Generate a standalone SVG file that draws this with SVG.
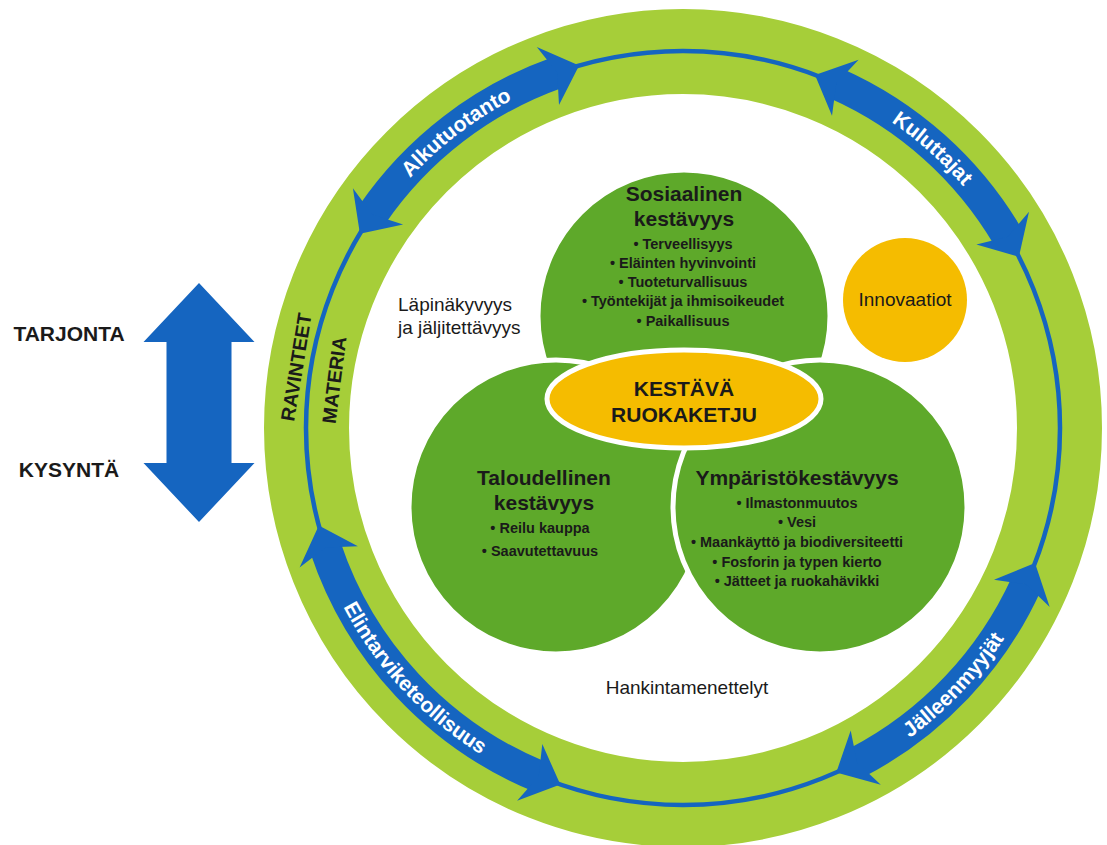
<svg xmlns="http://www.w3.org/2000/svg" width="1107" height="845" viewBox="0 0 1107 845">
<style>
.b{font-family:"Liberation Sans",Arial,sans-serif;font-weight:bold;fill:#1a1a1a}
.r{font-family:"Liberation Sans",Arial,sans-serif;fill:#1a1a1a;font-size:19px}
.w{font-family:"Liberation Sans",Arial,sans-serif;font-weight:bold;fill:#fff;font-size:21px}
.h{font-size:21px;text-anchor:middle}
.li{font-size:14.5px;text-anchor:middle}
.head{fill:#1565c0}
.shaft{fill:none;stroke:#1565c0;stroke-width:32}
.c{fill:#5ea92a;stroke:#fff;stroke-width:5}
.y{fill:#f5bc00}
</style>
<defs>
<path id="pA" d="M365.8,237.4 A370,370 0 0 1 581.0,72.3"/>
<path id="pK" d="M812.6,81.4 A370,370 0 0 1 1012.7,260.0"/>
<path id="pJ" d="M839.2,778.8 A384,384 0 0 0 1041.5,565.6"/>
<path id="pE" d="M312.1,527.4 A384,384 0 0 0 558.0,791.1"/>
</defs>
<rect width="1107" height="845" fill="#fff"/>
<g id="ring">
<circle cx="683" cy="428" r="376.5" fill="none" stroke="#a6ce39" stroke-width="85"/>
</g>
<g id="connectors">
<circle cx="683" cy="428" r="377" fill="none" stroke="#1565c0" stroke-width="4.5"/>
<g id="arrow-alkutuotanto">
<path class="shaft" d="M372.3,214.5 A377,377 0 0 1 557.2,72.6"/>
<polygon class="head" points="359.9,233.8 352.9,188.2 372.3,214.5 403.1,224.6"/>
<polygon class="head" points="579.1,65.6 536.8,47.1 557.2,72.6 559.0,105.0"/>
<text class="w"><textPath href="#pA" startOffset="50%" text-anchor="middle">Alkutuotanto</textPath></text>
</g>
<g id="arrow-kuluttajat">
<path class="shaft" d="M836.3,83.6 A377,377 0 0 1 1007.8,236.7"/>
<polygon class="head" points="815.0,74.9 858.6,59.7 836.3,83.6 832.0,115.7"/>
<polygon class="head" points="1018.9,256.8 1029.0,211.8 1007.8,236.7 976.4,244.6"/>
<text class="w"><textPath href="#pK" startOffset="50%" text-anchor="middle">Kuluttajat</textPath></text>
</g>
<g id="arrow-jalleenmyyjat">
<path class="shaft" d="M1026.1,584.3 A377,377 0 0 1 857.1,762.4"/>
<polygon class="head" points="1035.0,563.1 1049.7,606.9 1026.1,584.3 994.0,579.7"/>
<polygon class="head" points="836.3,772.4 880.8,784.8 857.1,762.4 850.7,730.6"/>
<text class="w"><textPath href="#pJ" startOffset="50%" text-anchor="middle">Jälleenmyyjät</textPath></text>
</g>
<g id="arrow-elintarviketeollisuus">
<path class="shaft" d="M538.7,776.3 A377,377 0 0 1 325.5,547.6"/>
<polygon class="head" points="560.3,784.5 517.1,800.7 538.7,776.3 542.3,744.1"/>
<polygon class="head" points="318.8,525.6 299.6,567.5 325.5,547.6 357.9,546.3"/>
<text class="w"><textPath href="#pE" startOffset="50%" text-anchor="middle">Elintarviketeollisuus</textPath></text>
</g>
<g id="arrow-supply-demand">
<polygon class="head" points="199,283 254.5,342 231.5,342 231.5,463 254.5,463 199,522 143.5,463 166.5,463 166.5,342 143.5,342"/>
</g>
</g>
<g id="ring-labels">
<text class="b" font-size="19.5" text-anchor="middle" transform="translate(296,367) rotate(-80.7)" dy="7">RAVINTEET</text>
<text class="b" font-size="19.5" text-anchor="middle" transform="translate(334,380) rotate(-82.7)" dy="7">MATERIA</text>
</g>
<g id="supply-demand-labels">
<text class="b" font-size="21" text-anchor="middle" x="69" y="341">TARJONTA</text>
<text class="b" font-size="21" text-anchor="middle" x="69" y="477">KYSYNTÄ</text>
</g>
<g id="node-sosiaalinen">
<circle class="c" cx="684" cy="316" r="146"/>
<text class="b h" x="684" y="201">Sosiaalinen</text>
<text class="b h" x="684" y="226">kestävyys</text>
<text class="b li" x="683" y="249">• Terveellisyys</text>
<text class="b li" x="683" y="268">• Eläinten hyvinvointi</text>
<text class="b li" x="683" y="287">• Tuoteturvallisuus</text>
<text class="b li" x="683" y="306">• Työntekijät ja ihmisoikeudet</text>
<text class="b li" x="683" y="326">• Paikallisuus</text>
</g>
<g id="node-taloudellinen">
<circle class="c" cx="556" cy="507" r="147"/>
<text class="b h" x="544" y="485">Taloudellinen</text>
<text class="b h" x="544" y="510">kestävyys</text>
<text class="b li" x="540" y="533">• Reilu kauppa</text>
<text class="b li" x="540" y="556">• Saavutettavuus</text>
</g>
<g id="node-ymparisto">
<circle class="c" cx="820" cy="507" r="147"/>
<text class="b h" x="797" y="485">Ympäristökestävyys</text>
<text class="b li" x="797" y="508">• Ilmastonmuutos</text>
<text class="b li" x="797" y="527">• Vesi</text>
<text class="b li" x="797" y="547">• Maankäyttö ja biodiversiteetti</text>
<text class="b li" x="797" y="567">• Fosforin ja typen kierto</text>
<text class="b li" x="797" y="586">• Jätteet ja ruokahävikki</text>
</g>
<g id="node-kestava-ruokaketju">
<ellipse class="y" cx="684" cy="399" rx="137" ry="49" stroke="#fff" stroke-width="5"/>
<text class="b h" x="684" y="396">KESTÄVÄ</text>
<text class="b h" x="684" y="422">RUOKAKETJU</text>
</g>
<g id="node-innovaatiot">
<circle class="y" cx="905" cy="300" r="62"/>
<text class="r" x="905" y="306" text-anchor="middle">Innovaatiot</text>
</g>
<g id="label-lapinakyvyys">
<text class="r" x="398" y="311">Läpinäkyvyys</text>
<text class="r" x="398" y="334">ja jäljitettävyys</text>
</g>
<g id="label-hankinta">
<text class="r" x="687" y="694" text-anchor="middle">Hankintamenettelyt</text>
</g>
</svg>
